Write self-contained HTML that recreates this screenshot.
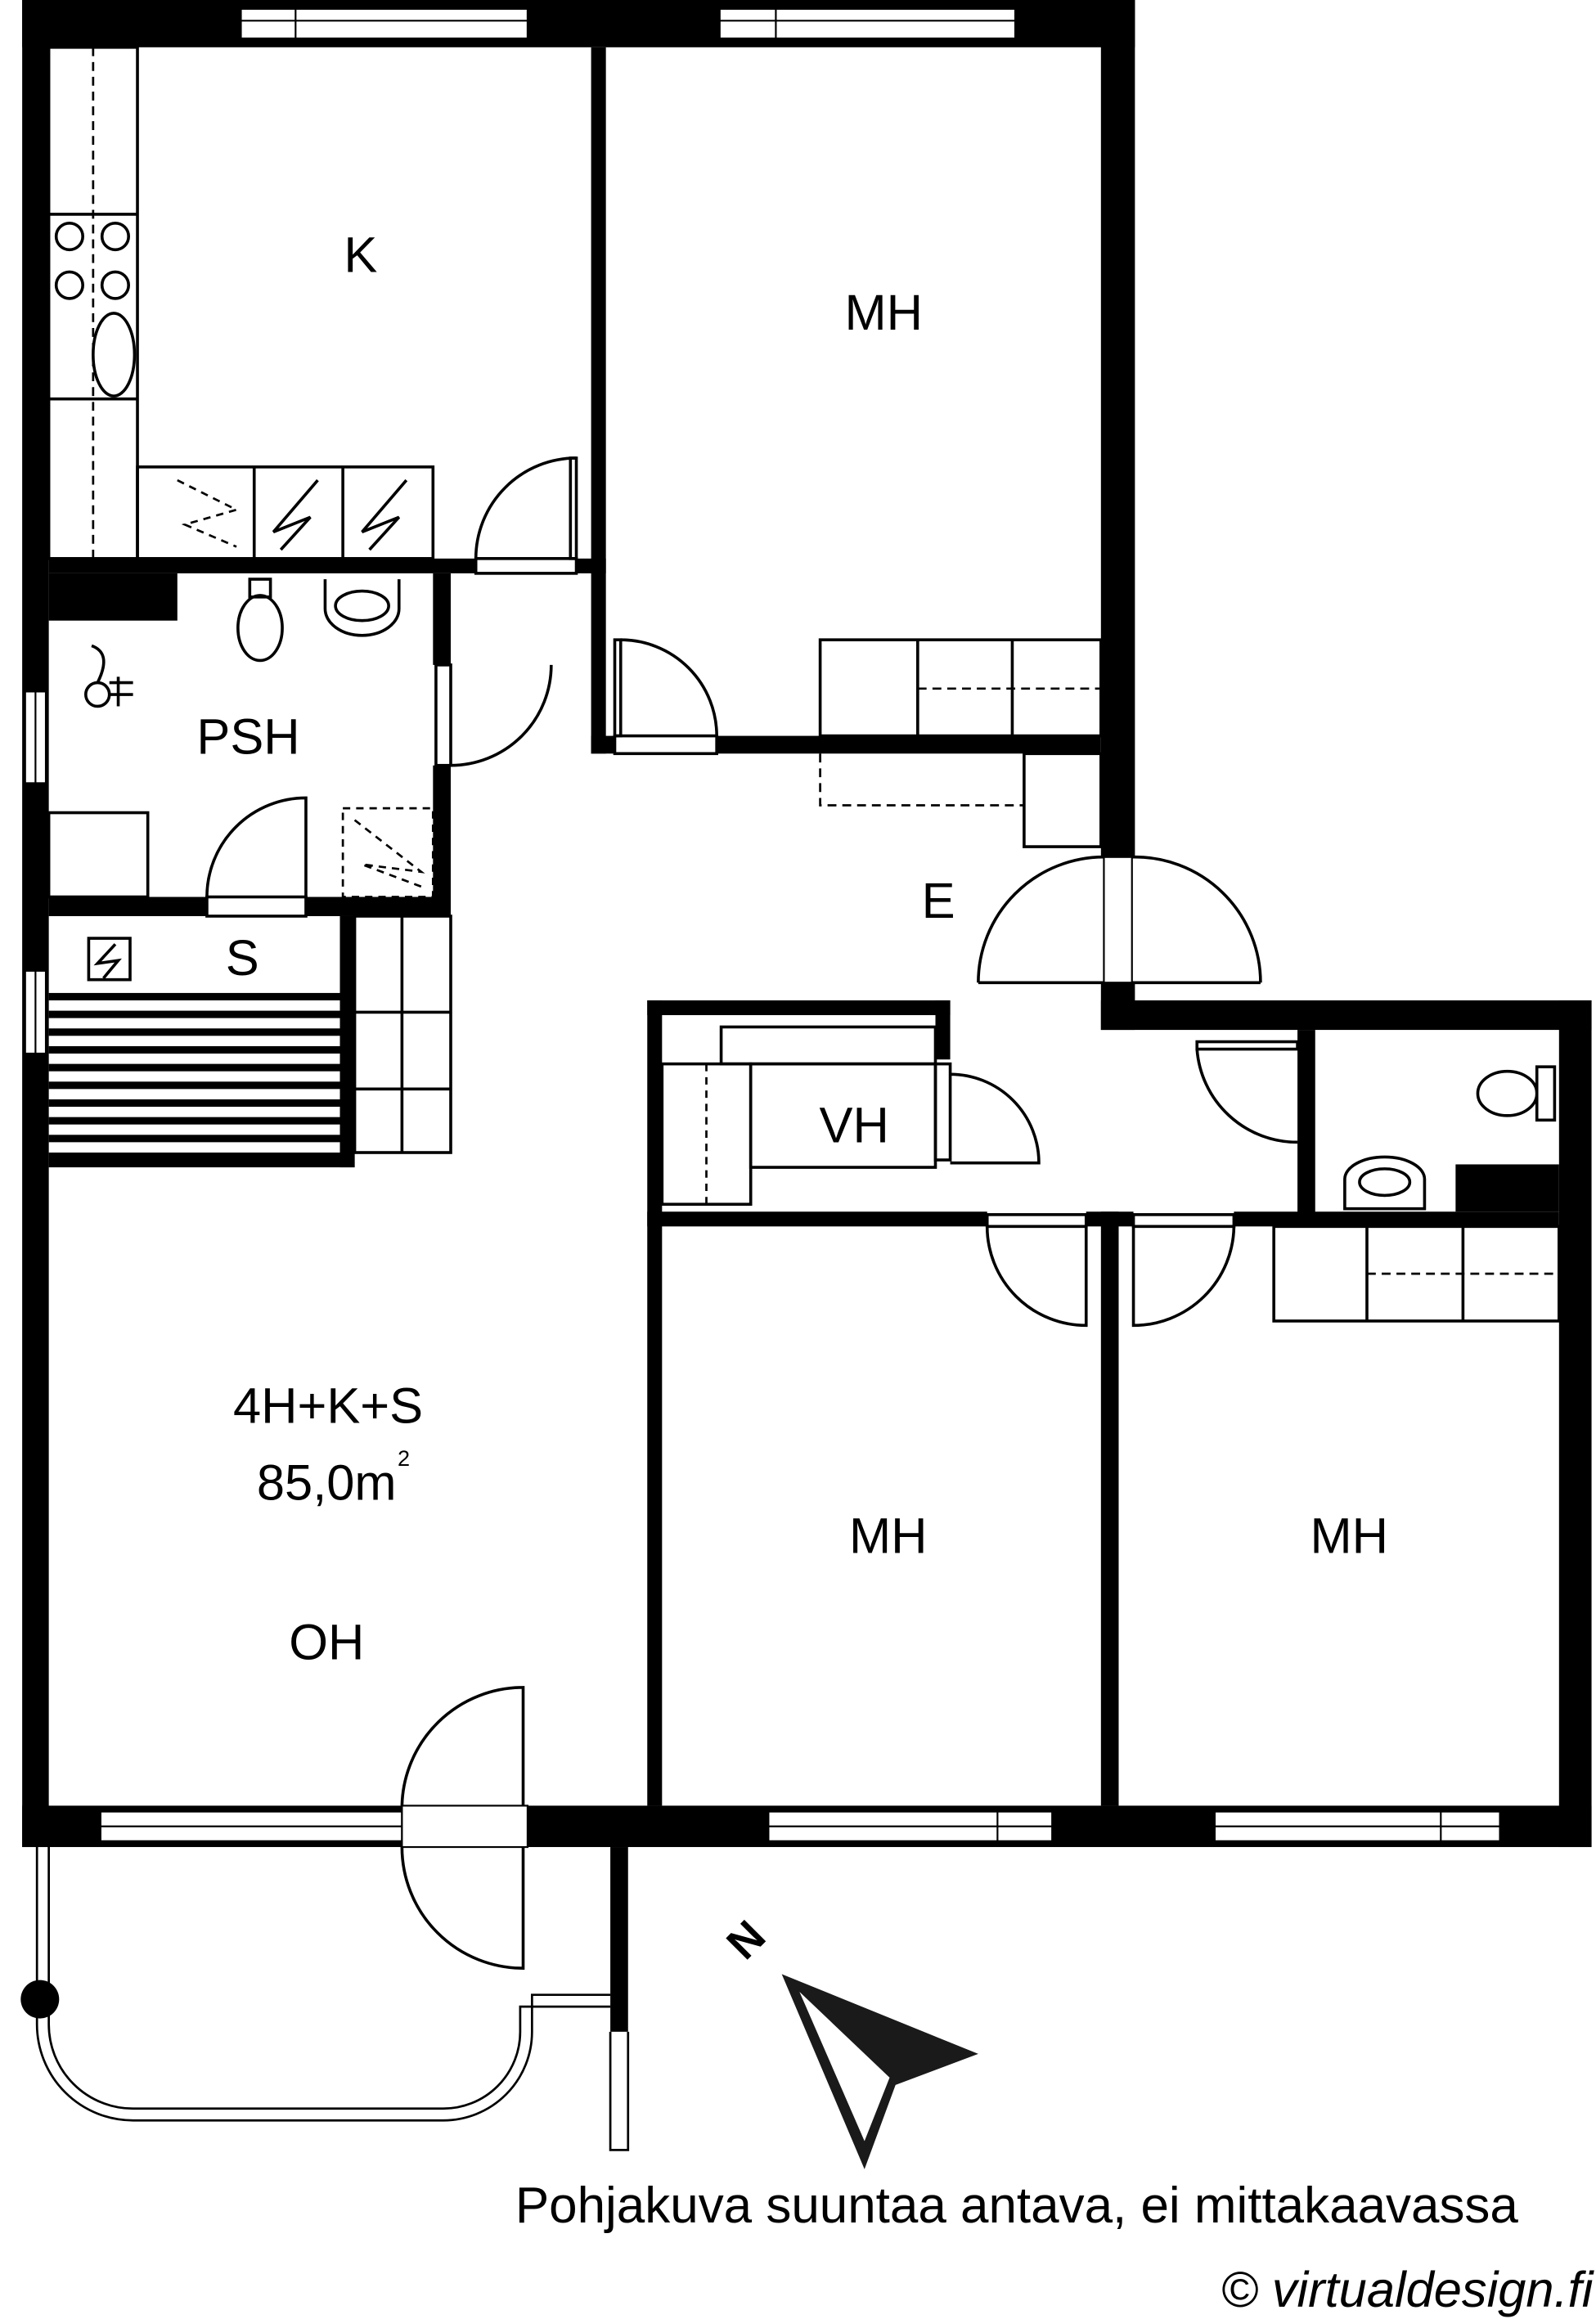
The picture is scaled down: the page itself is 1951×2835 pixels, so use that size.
<!DOCTYPE html>
<html><head><meta charset="utf-8"><style>
html,body{margin:0;padding:0;background:#fff;overflow:hidden}
svg{display:block}
text{font-family:"Liberation Sans",sans-serif;fill:#000}
</style></head><body>
<svg width="1951" height="2835" viewBox="0 0 1080 1569.4" xmlns="http://www.w3.org/2000/svg">
<g fill="#000">
<rect x="15" y="0" width="753" height="32"/>
<rect x="15" y="0" width="18" height="1250"/>
<rect x="745" y="0" width="23" height="580"/>
<rect x="745" y="665" width="23" height="32"/>
<rect x="745" y="677" width="332" height="20"/>
<rect x="1055" y="677" width="22" height="573"/>
<rect x="15" y="1222" width="1062" height="28"/>
<rect x="400" y="32" width="10" height="478"/>
<rect x="33" y="378" width="289" height="10"/>
<rect x="390" y="378" width="20" height="10"/>
<rect x="33" y="388" width="87" height="32"/>
<rect x="400" y="498" width="16" height="12"/>
<rect x="485" y="498" width="260" height="12"/>
<rect x="293" y="388" width="12" height="62"/>
<rect x="293" y="518" width="12" height="102"/>
<rect x="33" y="607" width="107" height="13"/>
<rect x="207" y="607" width="98" height="13"/>
<rect x="230" y="620" width="10" height="170"/>
<rect x="33" y="780" width="207" height="10"/>
<rect x="438" y="677" width="205" height="10"/>
<rect x="438" y="677" width="10" height="545"/>
<rect x="633" y="677" width="10" height="40"/>
<rect x="438" y="820" width="230" height="10"/>
<rect x="735" y="820" width="32" height="10"/>
<rect x="835" y="820" width="220" height="10"/>
<rect x="745" y="820" width="12" height="402"/>
<rect x="878" y="697" width="12" height="133"/>
<rect x="985" y="788" width="70" height="32"/>
<rect x="413" y="1250" width="12" height="125"/>
<rect x="33" y="672" width="197" height="5"/>
<rect x="33" y="684" width="197" height="5"/>
<rect x="33" y="696" width="197" height="5"/>
<rect x="33" y="708" width="197" height="5"/>
<rect x="33" y="720" width="197" height="5"/>
<rect x="33" y="732" width="197" height="5"/>
<rect x="33" y="744" width="197" height="5"/>
<rect x="33" y="756" width="197" height="5"/>
<rect x="33" y="768" width="197" height="5"/>
</g>
<g fill="#fff" stroke="#000" stroke-width="1.2">
<rect x="163" y="6" width="194" height="20"/><line x1="163" y1="14" x2="357" y2="14"/><line x1="200" y1="6" x2="200" y2="26"/>
<rect x="487" y="6" width="200" height="20"/><line x1="487" y1="14" x2="687" y2="14"/><line x1="525" y1="6" x2="525" y2="26"/>
<rect x="17" y="468" width="14" height="62"/><line x1="24" y1="468" x2="24" y2="530"/>
<rect x="17" y="657" width="14" height="56"/><line x1="24" y1="657" x2="24" y2="713"/>
<rect x="68" y="1226" width="204" height="20"/><line x1="68" y1="1236" x2="272" y2="1236"/>
<rect x="520" y="1226" width="192" height="20"/><line x1="520" y1="1236" x2="712" y2="1236"/><line x1="675" y1="1226" x2="675" y2="1246"/>
<rect x="822" y="1226" width="193" height="20"/><line x1="822" y1="1236" x2="1015" y2="1236"/><line x1="975" y1="1226" x2="975" y2="1246"/>
<rect x="272" y="1222" width="85" height="28"/>
<rect x="747" y="580" width="19" height="85"/>
</g>
<g fill="none" stroke="#000" stroke-width="2">
<rect x="33" y="32" width="60" height="346"/>
<line x1="63" y1="32" x2="63" y2="378" stroke-dasharray="6,4" stroke-width="1.5"/>
<line x1="33" y1="145" x2="93" y2="145"/><line x1="33" y1="270" x2="93" y2="270"/>
<circle cx="47" cy="160" r="9"/><circle cx="78" cy="160" r="9"/><circle cx="47" cy="193" r="9"/><circle cx="78" cy="193" r="9"/>
<ellipse cx="77" cy="240" rx="14" ry="28"/>
<rect x="93" y="316" width="200" height="62"/><line x1="172" y1="316" x2="172" y2="378"/><line x1="232" y1="316" x2="232" y2="378"/>
<path d="M120 325 L160 345 L125 355 L160 370" stroke-dasharray="5,4" stroke-width="1.5"/>
<path d="M215 325 L185 360 L210 350 L190 372"/><path d="M275 325 L245 360 L270 350 L250 372"/>
<rect x="322" y="378" width="68" height="10"/><rect x="386" y="310" width="4" height="68"/><path d="M322 378 A68 68 0 0 1 390 310"/>
<path d="M169 392 h14 v12 h-14 z"/><ellipse cx="176" cy="425" rx="15" ry="22"/>
<path d="M220 392 v20 a25 18 0 0 0 50 0 v-20"/><ellipse cx="245" cy="410" rx="18" ry="10"/>
<circle cx="66" cy="470" r="8"/><path d="M66 462 q10 -20 -4 -25"/><line x1="80" y1="458" x2="80" y2="478"/><line x1="74" y1="462" x2="90" y2="462"/><line x1="74" y1="470" x2="90" y2="470"/>
<rect x="295" y="450" width="10" height="68"/><path d="M305 518 A68 68 0 0 0 373 450"/>
<rect x="33" y="550" width="67" height="57"/>
<rect x="140" y="607" width="67" height="13"/><path d="M140 607 A67 67 0 0 1 207 540 V607"/>
<rect x="232" y="547" width="61" height="60" stroke-dasharray="5,4" stroke-width="1.5"/><path d="M240 555 L285 590 L245 585 L285 600" stroke-dasharray="5,4" stroke-width="1.5"/>
<rect x="60" y="635" width="28" height="28"/><path d="M78 639 L66 652 L80 650 L70 662"/>
<rect x="240" y="620" width="65" height="160"/><line x1="240" y1="685" x2="305" y2="685"/><line x1="240" y1="737" x2="305" y2="737"/><line x1="272" y1="620" x2="272" y2="780"/>
<rect x="555" y="433" width="190" height="65"/><line x1="621" y1="433" x2="621" y2="498"/><line x1="685" y1="433" x2="685" y2="498"/>
<line x1="621" y1="466" x2="745" y2="466" stroke-dasharray="6,4" stroke-width="1.5"/>
<rect x="416" y="498" width="69" height="12"/><rect x="416" y="433" width="4" height="65"/><path d="M420 433 A65 65 0 0 1 485 498"/>
<path d="M555 510 v35 h138 v-35" stroke-dasharray="6,4" stroke-width="1.5"/>
<rect x="693" y="510" width="52" height="63"/>
<path d="M662 665 A85 85 0 0 1 747 580"/><line x1="662" y1="665" x2="747" y2="665"/>
<path d="M853 665 A85 85 0 0 0 766 580"/><line x1="766" y1="665" x2="853" y2="665"/>
<rect x="448" y="720" width="60" height="95"/><line x1="478" y1="720" x2="478" y2="815" stroke-dasharray="5,4" stroke-width="1.5"/>
<rect x="488" y="695" width="145" height="25"/><rect x="508" y="720" width="125" height="70"/>
<rect x="633" y="720" width="10" height="65"/><path d="M643 727 A60 60 0 0 1 703 787 H643"/>
<rect x="810" y="705" width="68" height="5"/><rect x="880" y="705" width="8" height="68"/><path d="M810 710 A68 68 0 0 0 878 773"/>
<ellipse cx="1020" cy="740" rx="20" ry="15"/><path d="M1040 722 h12 v36 h-12 z"/>
<path d="M910 818 v-20 a27 15 0 0 1 54 0 v20 z"/><ellipse cx="937" cy="800" rx="17" ry="9"/>
<rect x="668" y="822" width="67" height="8"/><path d="M668 830 A67 67 0 0 0 735 897 V830"/>
<rect x="767" y="822" width="68" height="8"/><path d="M835 830 A68 68 0 0 1 767 897 V830"/>
<rect x="862" y="830" width="193" height="64"/><line x1="925" y1="830" x2="925" y2="894"/><line x1="990" y1="830" x2="990" y2="894"/>
<line x1="925" y1="862" x2="1055" y2="862" stroke-dasharray="6,4" stroke-width="1.5"/>
<path d="M272 1222 A82 82 0 0 1 354 1142 V1222"/><path d="M272 1250 A82 82 0 0 0 354 1332 V1250"/>
</g>
<g fill="none" stroke="#000" stroke-width="1.5">
<path d="M25 1250 V1370 A65 65 0 0 0 90 1435 H300 A60 60 0 0 0 360 1375 V1350 H413"/>
<path d="M33 1250 V1370 A57 57 0 0 0 90 1427 H300 A52 52 0 0 0 352 1375 V1358 H413"/>
<path d="M413 1375 V1455 H425 V1375"/>
</g>
<circle cx="27" cy="1353" r="13" fill="#000"/>
<path d="M529 1336 L662 1390 L606 1411 L585 1468 Z" fill="#1a1a1a"/>
<path d="M541 1348 L602 1406 L585 1449 Z" fill="#fff"/>
<text x="505" y="1313" font-size="30" font-weight="bold" text-anchor="middle" dominant-baseline="central" transform="rotate(-45 505 1313)" fill="#1a1a1a">N</text>
<g font-size="34">
<text x="244" y="184" text-anchor="middle">K</text>
<text x="598" y="223" text-anchor="middle">MH</text>
<text x="168" y="510" text-anchor="middle">PSH</text>
<text x="164" y="660" text-anchor="middle">S</text>
<text x="635" y="621" text-anchor="middle">E</text>
<text x="578" y="773" text-anchor="middle">VH</text>
<text x="222" y="963" text-anchor="middle">4H+K+S</text>
<text x="221" y="1015" text-anchor="middle">85,0m</text>
<text x="221" y="1123" text-anchor="middle">OH</text>
<text x="601" y="1051" text-anchor="middle">MH</text>
<text x="913" y="1051" text-anchor="middle">MH</text>
</g>
<text x="269" y="992" font-size="15">2</text>
<text x="688" y="1504" font-size="34.3" text-anchor="middle">Pohjakuva suuntaa antava, ei mittakaavassa</text>
<text x="1078" y="1561" font-size="34" font-style="italic" text-anchor="end">© virtualdesign.fi</text>
</svg>
</body></html>
